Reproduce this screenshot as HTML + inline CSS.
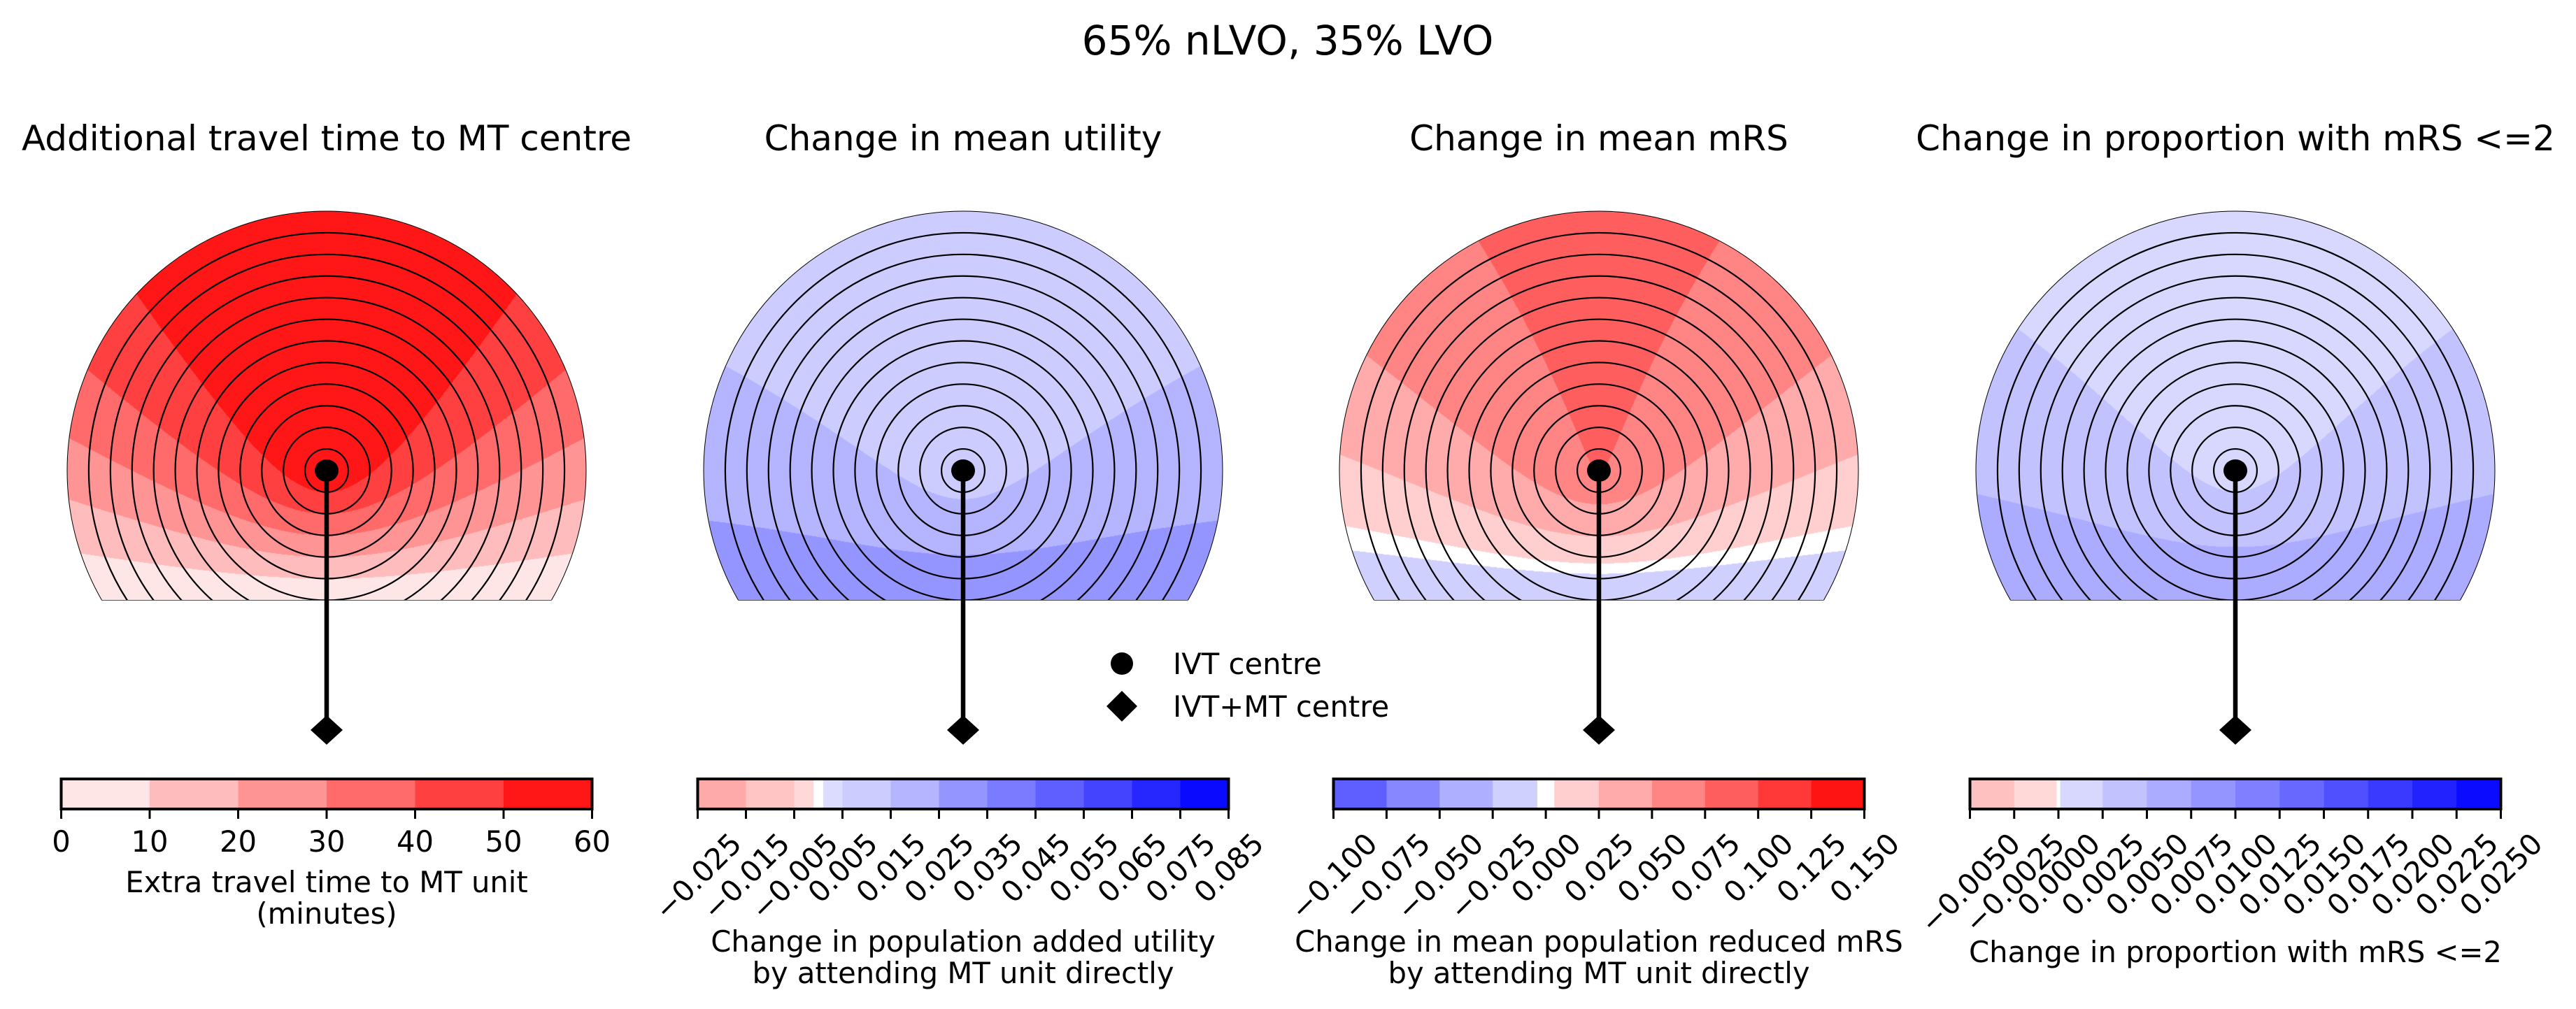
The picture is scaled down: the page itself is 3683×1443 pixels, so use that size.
<!DOCTYPE html>
<html><head><meta charset="utf-8">
<style>
html,body{margin:0;padding:0;background:#fff;}
#wrap{position:relative;width:3683px;height:1443px;overflow:hidden;}
canvas{position:absolute;}
svg{position:absolute;left:0;top:0;}
text{font-family:"DejaVu Sans","Liberation Sans",sans-serif;fill:#000;}
</style></head>
<body>
<div id="wrap">
<svg id="svg" width="3683" height="1443">
  <text x="1841" y="78" font-size="58" text-anchor="middle">65% nLVO, 35% LVO</text>
  <g id="legend">
    <circle cx="1604" cy="949" r="16" fill="#000"/>
    <text x="1677" y="964" font-size="41.7">IVT centre</text>
    <polygon points="1582,1010 1604,988 1626,1010 1604,1032" fill="#000"/>
    <text x="1677" y="1025" font-size="41.7">IVT+MT centre</text>
  </g>
</svg>
</div>
<script>
// ---- shared geometry data ----
const mtDistanceMin = 60;     // travel time IVT -> MT (minutes)
const ringStepMin = 5;        // ring spacing (minutes)
const ringCount = 12;
const regionCutMin = 30;      // region cut below IVT centre (minutes)

// ---- panel 1: extra travel time ----
const p1Title = "Additional travel time to MT centre";
const p1Levels = [0,10,20,30,40,50,60];
const p1Colors = ["#ffe6e6","#ffbcbc","#ff9494","#ff6a6a","#ff4040","#ff1616"];
const p1Ticks = [0,10,20,30,40,50,60];
const p1TickLabels = ["0","10","20","30","40","50","60"];
const p1Coef = [0, 1, 0];
const p1Label = ["Extra travel time to MT unit","(minutes)"];

// ---- panel 2: utility ----
const p2Title = "Change in mean utility";
const p2Levels = [-0.025,-0.015,-0.005,-0.001,0.001,0.005,0.015,0.025,0.035,0.045,0.055,0.065,0.075,0.085];
const p2Colors = ["#ffaaaa","#ffc4c4","#ffd9d9","#ffffff","#dcdcff","#ccccff","#b4b4ff","#9595ff","#7b7bff","#5f5fff","#4444ff","#2626ff","#0a0aff"];
const p2Ticks = [-0.025,-0.015,-0.005,0.005,0.015,0.025,0.035,0.045,0.055,0.065,0.075,0.085];
const p2TickLabels = ["\u22120.025","\u22120.015","\u22120.005","0.005","0.015","0.025","0.035","0.045","0.055","0.065","0.075","0.085"];
const p2Coef = [0.0346, -0.000412, -0.0000486];
const p2Label = ["Change in population added utility","by attending MT unit directly"];

// ---- panel 3: mRS ----
const p3Title = "Change in mean mRS";
const p3Levels = [-0.1,-0.075,-0.05,-0.025,-0.004,0.004,0.025,0.05,0.075,0.1,0.125,0.15];
const p3Colors = ["#5f5fff","#8787ff","#afafff","#d0d0ff","#ffffff","#ffcfcf","#ffabab","#ff8585","#ff5e5e","#ff3838","#ff1414"];
const p3Ticks = [-0.1,-0.075,-0.05,-0.025,0,0.025,0.05,0.075,0.1,0.125,0.15];
const p3TickLabels = ["\u22120.100","\u22120.075","\u22120.050","\u22120.025","0.000","0.025","0.050","0.075","0.100","0.125","0.150"];
const p3Coef = [-0.027, 0.00172, 0.00008];
const p3Label = ["Change in mean population reduced mRS","by attending MT unit directly"];

// ---- panel 4: mRS<=2 ----
const p4Title = "Change in proportion with mRS <=2";
const p4Levels = [-0.005,-0.0025,-0.0001,0.0001,0.0025,0.005,0.0075,0.01,0.0125,0.015,0.0175,0.02,0.0225,0.025];
const p4Colors = ["#ffc0c0","#ffd8d8","#ffffff","#d8d8ff","#c2c2ff","#ababff","#9595ff","#7f7fff","#6868ff","#5050ff","#3a3aff","#2222ff","#0b0bff"];
const p4Ticks = [-0.005,-0.0025,0,0.0025,0.005,0.0075,0.01,0.0125,0.015,0.0175,0.02,0.0225,0.025];
const p4TickLabels = ["\u22120.0050","\u22120.0025","0.0000","0.0025","0.0050","0.0075","0.0100","0.0125","0.0150","0.0175","0.0200","0.0225","0.0250"];
const p4Coef = [0.00766, -0.0001017, -0.00000885];
const p4Label = ["Change in proportion with mRS <=2"];

const panels = [
  {name:"travel-time", title:p1Title, levels:p1Levels, colors:p1Colors, ticks:p1Ticks, tickLabels:p1TickLabels, coef:p1Coef, label:p1Label, rot:false},
  {name:"utility", title:p2Title, levels:p2Levels, colors:p2Colors, ticks:p2Ticks, tickLabels:p2TickLabels, coef:p2Coef, label:p2Label, rot:true},
  {name:"mrs", title:p3Title, levels:p3Levels, colors:p3Colors, ticks:p3Ticks, tickLabels:p3TickLabels, coef:p3Coef, label:p3Label, rot:true},
  {name:"mrs-le2", title:p4Title, levels:p4Levels, colors:p4Colors, ticks:p4Ticks, tickLabels:p4TickLabels, coef:p4Coef, label:p4Label, rot:true}
];

// layout
const centersX = [467, 1377, 2286, 3196];
const cy = 673;
const R = 371;
const pxPerMin = R / (ringStepMin * ringCount);
const cutPx = regionCutMin * pxPerMin;
const mtPx = mtDistanceMin * pxPerMin;
const cbW = 759, cbTop = 1114, cbH = 43;
const NS = "http://www.w3.org/2000/svg";
const svg = document.getElementById('svg');
const wrap = document.getElementById('wrap');

function hexRgb(h){return [parseInt(h.substr(1,2),16),parseInt(h.substr(3,2),16),parseInt(h.substr(5,2),16)];}
function mk(tag, attrs, parent){const e=document.createElementNS(NS,tag);for(const k in attrs)e.setAttribute(k,attrs[k]);(parent||svg).appendChild(e);return e;}
function colorIdx(levels, v){
  if (v <= levels[0]) return 0;
  for (let i=0;i<levels.length-1;i++){ if (v < levels[i+1]) return i; }
  return levels.length-2;
}

panels.forEach((p, pi) => {
  const cx = centersX[pi];
  const g = mk('g', {});
  
  

  const t = mk('text', {x:cx, y:215, 'font-size':50, 'text-anchor':'middle'}, g);
  t.textContent = p.title;
  
  

  const cv = document.createElement('canvas');
  const x0 = Math.floor(cx - R - 2), y0 = Math.floor(cy - R - 2);
  const w = 2*R + 5, h = Math.ceil(R + cutPx + 5);
  cv.width = w; cv.height = h;
  cv.style.left = x0 + 'px'; cv.style.top = y0 + 'px';
  
  
  wrap.insertBefore(cv, svg);
  const ctx = cv.getContext('2d');
  const img = ctx.createImageData(w, h);
  const rgbs = p.colors.map(hexRgb);
  for (let j=0;j<h;j++){
    for (let i=0;i<w;i++){
      const dx = x0 + i + 0.5 - cx, dy = y0 + j + 0.5 - cy;
      const dI = Math.sqrt(dx*dx+dy*dy);
      if (dI > R || dy > cutPx) continue;
      const dM = Math.sqrt(dx*dx + (dy-mtPx)*(dy-mtPx));
      const tIVT = dI / pxPerMin;
      const extra = (dM - dI) / pxPerMin;
      const v = p.coef[0] + p.coef[1]*extra + p.coef[2]*tIVT;
      const c = rgbs[colorIdx(p.levels, v)];
      const k = (j*w+i)*4;
      img.data[k]=c[0]; img.data[k+1]=c[1]; img.data[k+2]=c[2]; img.data[k+3]=255;
    }
  }
  ctx.putImageData(img, 0, 0);

  const clipId = 'clip' + pi;
  const cp = mk('clipPath', {id:clipId}, g);
  mk('rect', {x:cx-R-2, y:cy-R-2, width:2*R+4, height:R+cutPx+2}, cp);
  const rings = mk('g', {'clip-path':'url(#'+clipId+')'}, g);
  
  
  for (let k=1;k<=ringCount;k++){
    const r = k*ringStepMin*pxPerMin;
    const c = mk('circle', {cx:cx, cy:cy, r:r, fill:'none', stroke:'#000', 'stroke-width': k===ringCount?1:2.2}, rings);
    
    
  }
  const bx = Math.sqrt(R*R - cutPx*cutPx);
  const bl = mk('line', {x1:cx-bx, y1:cy+cutPx, x2:cx+bx, y2:cy+cutPx, stroke:'#555', 'stroke-width':1}, g);
  
  

  const ln = mk('line', {x1:cx, y1:cy, x2:cx, y2:cy+mtPx, stroke:'#000', 'stroke-width':6.5}, g);
  
  
  const dot = mk('ellipse', {cx:cx, cy:cy, rx:17, ry:16, fill:'#000'}, g);
  
  
  const my = cy + mtPx;
  const dm = mk('polygon', {points:`${cx-23},${my} ${cx},${my-21} ${cx+23},${my} ${cx},${my+21}`, fill:'#000'}, g);
  
  

  const cbX = cx - cbW/2;
  const lo = p.levels[0], hi = p.levels[p.levels.length-1];
  const sx = v => cbX + (v - lo)/(hi - lo)*cbW;
  const cb = mk('g', {}, g);
  
  
  for (let i=0;i<p.colors.length;i++){
    const r = mk('rect', {x:sx(p.levels[i]), y:cbTop, width:sx(p.levels[i+1])-sx(p.levels[i])+0.5, height:cbH, fill:p.colors[i]}, cb);
    
    
  }
  mk('rect', {x:cbX, y:cbTop, width:cbW, height:cbH, fill:'none', stroke:'#000', 'stroke-width':4}, cb);
  p.ticks.forEach((tv, ti) => {
    const tx = sx(tv);
    const tk = mk('line', {x1:tx, y1:cbTop+cbH, x2:tx, y2:cbTop+cbH+14, stroke:'#000', 'stroke-width':3}, cb);
    
    
    const lab = mk('text', {'font-size':41.7}, cb);
    lab.textContent = p.tickLabels[ti];
    
    
    if (!p.rot) {
      lab.setAttribute('x', tx); lab.setAttribute('y', 1218);
      lab.setAttribute('text-anchor', 'middle');
    } else {
      const tw = lab.getComputedTextLength();
      const th = 30;
      const half = (tw + th) * 0.7071 / 2;
      const ccy = 1188 + half;
      lab.setAttribute('x', tx); lab.setAttribute('y', ccy + 15);
      lab.setAttribute('text-anchor', 'middle');
      lab.setAttribute('transform', `rotate(-45 ${tx} ${ccy})`);
    }
  });
  let baseY;
  if (!p.rot) baseY = [1276, 1321];
  else if (p.label.length === 2) baseY = [1361, 1406];
  else baseY = [1376];
  p.label.forEach((line, li) => {
    const tl = mk('text', {x:cx, y:baseY[li], 'font-size':41.7, 'text-anchor':'middle'}, cb);
    tl.textContent = line;
    
    
  });
});
svg.appendChild(document.getElementById('legend'));
</script>
</body></html>
